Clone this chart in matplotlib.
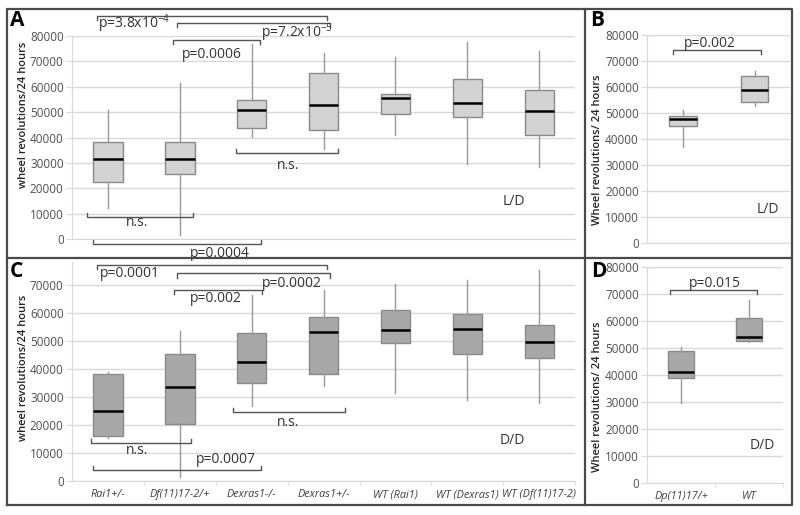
import matplotlib.pyplot as plt
from matplotlib.lines import Line2D

plt.rcParams['font.family'] = ['Open Sans', 'DejaVu Sans']
plt.rcParams['mathtext.fontset'] = 'custom'
plt.rcParams['mathtext.rm'] = 'Open Sans'

# panel A / C groups
groups = ['Rai1+/-', 'Df(11)17-2/+', 'Dexras1-/-', 'Dexras1+/-',
          'WT (Rai1)', 'WT (Dexras1)', 'WT (Df(11)17-2)']
# light/dark (A): whisker low, Q1, median, Q3, whisker high
a_low = [12400, 1400, 40300, 35500, 40800, 29700, 28400]
a_q1 = [22400, 25700, 43800, 43000, 49200, 47900, 40800]
a_med = [31400, 31700, 50700, 52800, 55700, 53600, 50400]
a_q3 = [38300, 38300, 54700, 65300, 57100, 62900, 58700]
a_high = [50800, 61600, 76700, 73400, 71600, 77800, 74100]
# dark/dark (C)
c_low = [15500, 1500, 26800, 33800, 31200, 28800, 27900]
c_q1 = [16100, 20400, 34800, 38100, 49300, 45100, 43900]
c_med = [24800, 33500, 42500, 53000, 53700, 54000, 49700]
c_q3 = [38300, 45400, 52600, 58500, 61100, 59400, 55600]
c_high = [38700, 53500, 66200, 68200, 70300, 71800, 75100]

# panel B / D groups
groups2 = ['Dp(11)17/+', 'WT']
b_low = [37000, 52600]
b_q1 = [45100, 54300]
b_med = [47900, 58800]
b_q3 = [48900, 64300]
b_high = [51100, 66100]
d_low = [29500, 52100]
d_q1 = [39000, 52700]
d_med = [40900, 53900]
d_q3 = [49000, 60900]
d_high = [50500, 67700]

# brackets: (x0, x1, y, ticks direction, label, label x, label y)
a_brackets = [
    (-0.15, 3.05, 87900, -1, r'p=3.8x10$^{\mathrm{-4}}$', 0.36, 84700),
    (0.96, 3.09, 85000, -1, r'p=7.2x10$^{\mathrm{-5}}$', 2.63, 81200),
    (0.90, 2.12, 78400, -1, 'p=0.0006', 1.45, 72900),
    (1.78, 3.20, 33900, 1, 'n.s.', 2.5, 28800),
    (-0.29, 1.18, 8700, 1, 'n.s.', 0.4, 6300),
    (-0.21, 2.13, -2000, 1, 'p=0.0004', 1.55, -5600),
]
c_brackets = [
    (-0.15, 3.05, 76900, -1, 'p=0.0001', 0.31, 74000),
    (0.96, 3.09, 74000, -1, 'p=0.0002', 2.56, 70500),
    (0.92, 2.14, 68000, -1, 'p=0.002', 1.5, 65100),
    (1.74, 3.30, 24500, 1, 'n.s.', 2.5, 21000),
    (-0.24, 1.16, 13500, 1, 'n.s.', 0.4, 11000),
    (-0.21, 2.13, 3900, 1, 'p=0.0007', 1.64, 7500),
]
b_brackets = [(-0.14, 1.09, 74200, -1, 'p=0.002', 0.38, 76900)]
d_brackets = [(-0.16, 1.12, 71300, -1, 'p=0.015', 0.5, 73900)]

LIGHT = '#d3d3d3'
DARK = '#a8a8a8'
GRID = '#d9d9d9'


def draw_panel(ax, low, q1, med, q3, high, fill, width, ylim, yticks, names=None):
    stats = []
    for i in range(len(med)):
        stats.append({'whislo': low[i], 'q1': q1[i], 'med': med[i],
                      'q3': q3[i], 'whishi': high[i], 'fliers': []})
    ax.bxp(stats, positions=range(len(med)), widths=width, showcaps=False,
           patch_artist=True, showfliers=False,
           boxprops=dict(facecolor=fill, edgecolor='#8a8a8a', linewidth=1),
           whiskerprops=dict(color='#999999', linewidth=1),
           medianprops=dict(color='black', linewidth=1.8))
    ax.set_xlim(-0.5, len(med) - 0.5)
    ax.set_ylim(*ylim)
    ax.set_yticks(yticks)
    ax.set_yticklabels([str(t) for t in yticks])
    ax.yaxis.grid(True, color=GRID, linewidth=1)
    ax.set_axisbelow(True)
    for s in ['top', 'right']:
        ax.spines[s].set_visible(False)
    ax.spines['left'].set_color(GRID)
    ax.spines['bottom'].set_color(GRID)
    ax.tick_params(axis='y', colors=GRID, labelcolor='#505050', labelsize=8.5,
                   length=4, pad=2)
    if names is None:
        ax.set_xticks([])
    else:
        ax.set_xticks(range(len(names)))
        ax.set_xticklabels(names, fontsize=7.8, style='italic', color='#404040')
        ax.set_xticks([i + 0.5 for i in range(len(names))], minor=True)
        ax.tick_params(axis='x', which='major', length=0, pad=6)
        ax.tick_params(axis='x', which='minor', length=3, color=GRID)


def draw_brackets(ax, brackets, tick):
    for x0, x1, y, d, label, lx, ly in brackets:
        ax.plot([x0, x0, x1, x1], [y + d * tick, y, y, y + d * tick],
                color='#555555', linewidth=1, clip_on=False)
        ax.text(lx, ly, label, ha='center', va='center', fontsize=10,
                color='#333333', clip_on=False)


fig = plt.figure(figsize=(8, 5.15), dpi=100)

yt8 = [0, 10000, 20000, 30000, 40000, 50000, 60000, 70000, 80000]

axA = fig.add_axes([0.09, 0.536, 0.629, 0.394])
draw_panel(axA, a_low, a_q1, a_med, a_q3, a_high, LIGHT, 0.41, (0, 80000), yt8)
draw_brackets(axA, a_brackets, 1500)
axA.text(5.64, 14600, 'L/D', ha='center', va='center', fontsize=10, color='#333333')

axB = fig.add_axes([0.809, 0.528, 0.179, 0.404])
draw_panel(axB, b_low, b_q1, b_med, b_q3, b_high, LIGHT, 0.38, (0, 80000), yt8)
draw_brackets(axB, b_brackets, 1500)
axB.text(1.18, 13000, 'L/D', ha='center', va='center', fontsize=10, color='#333333')

axC = fig.add_axes([0.09, 0.066, 0.629, 0.425])
draw_panel(axC, c_low, c_q1, c_med, c_q3, c_high, DARK, 0.41, (0, 78000),
           yt8[:-1], names=groups)
draw_brackets(axC, c_brackets, 1500)
axC.text(5.62, 14600, 'D/D', ha='center', va='center', fontsize=10, color='#333333')

axD = fig.add_axes([0.809, 0.062, 0.170, 0.420])
draw_panel(axD, d_low, d_q1, d_med, d_q3, d_high, DARK, 0.38, (0, 80000), yt8,
           names=groups2)
draw_brackets(axD, d_brackets, 1500)
axD.text(1.2, 14000, 'D/D', ha='center', va='center', fontsize=10, color='#333333')

# y labels
ylab = dict(rotation=90, ha='center', va='center', fontsize=8,
            fontweight='semibold', color='#222222')
fig.text(24 / 800, 1 - 115 / 515, 'wheel revolutions/24 hours', **ylab)
fig.text(24 / 800, 1 - 368 / 515, 'wheel revolutions/24 hours', **ylab)
fig.text(597 / 800, 1 - 150 / 515, 'Wheel revolutions/ 24 hours', **ylab)
fig.text(597 / 800, 1 - 397 / 515, 'Wheel revolutions/ 24 hours', **ylab)

# panel letters
let = dict(fontsize=15, fontweight='bold', color='black', ha='left', va='top')
fig.text(10 / 800, 1 - 10 / 515, 'A', **let)
fig.text(590 / 800, 1 - 10 / 515, 'B', **let)
fig.text(10 / 800, 1 - 261 / 515, 'C', **let)
fig.text(591 / 800, 1 - 261 / 515, 'D', **let)

# frame around the four panels
fc = '#4a4a4a'
x0, x1 = 7 / 800, 792 / 800
y0, y1 = 1 - 505 / 515, 1 - 9 / 515
xm, ym = 585 / 800, 1 - 258 / 515
for xs, ys in [([x0, x1, x1, x0, x0], [y0, y0, y1, y1, y0]),
               ([xm, xm], [y0, y1]), ([x0, x1], [ym, ym])]:
    fig.add_artist(Line2D(xs, ys, color=fc, linewidth=1.6, transform=fig.transFigure))

plt.savefig('out.png', dpi=100)
